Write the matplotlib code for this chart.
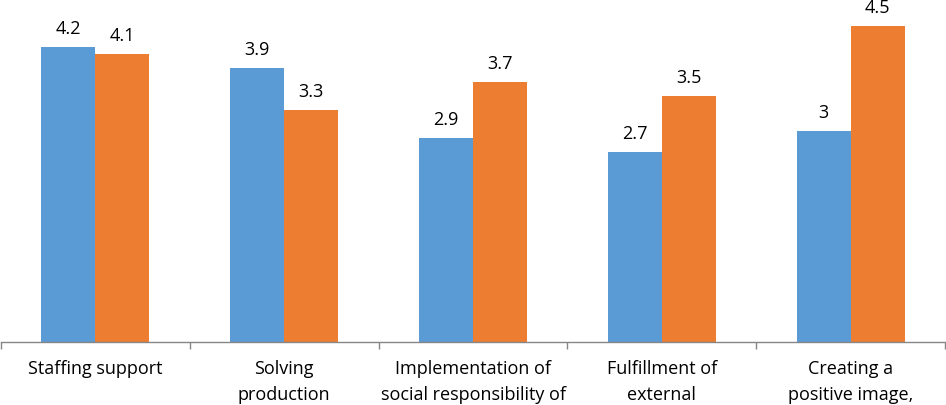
import matplotlib.pyplot as plt
import numpy as np

categories = ["Staffing support", "Solving\nproduction", "Implementation of\nsocial responsibility of",
              "Fulfillment of\nexternal", "Creating a\npositive image,"]
series_blue = [4.2, 3.9, 2.9, 2.7, 3.0]
series_orange = [4.1, 3.3, 3.7, 3.5, 4.5]
blue_labels = ["4.2", "3.9", "2.9", "2.7", "3"]
orange_labels = ["4.1", "3.3", "3.7", "3.5", "4.5"]

plt.rcParams['font.family'] = ['Open Sans', 'DejaVu Sans']

fig = plt.figure(figsize=(9.46, 4.06), dpi=100)
ax = fig.add_axes([1 / 946, 63 / 406, 944 / 946, 343 / 406])

x = np.arange(len(categories))
w = 0.2857
b1 = ax.bar(x - w / 2, series_blue, w, color="#5B9BD5")
b2 = ax.bar(x + w / 2, series_orange, w, color="#ED7D31")

for bars, labs in ((b1, blue_labels), (b2, orange_labels)):
    for bar, lab in zip(bars, labs):
        ax.annotate(lab, (bar.get_x() + bar.get_width() / 2, bar.get_height()),
                    xytext=(0, 7.5), textcoords="offset points", ha="center", va="bottom",
                    fontsize=13, color="black", annotation_clip=False)

ax.set_xlim(-0.5, len(categories) - 0.5)
ax.set_ylim(0, 343 / 70.2)
ax.set_yticks([])
for s in ["top", "right", "left"]:
    ax.spines[s].set_visible(False)
ax.spines["bottom"].set_color("#868686")
ax.spines["bottom"].set_linewidth(1)

ax.set_xticks(x)
ax.set_xticklabels(categories, fontsize=13, linespacing=1.55)
ax.tick_params(axis="x", which="major", length=0, pad=12.5)
ax.set_xticks(np.arange(-0.5, len(categories)), minor=True)
ax.tick_params(axis="x", which="minor", length=5, color="#868686", width=1)

fig.savefig("out.png", dpi=100)
